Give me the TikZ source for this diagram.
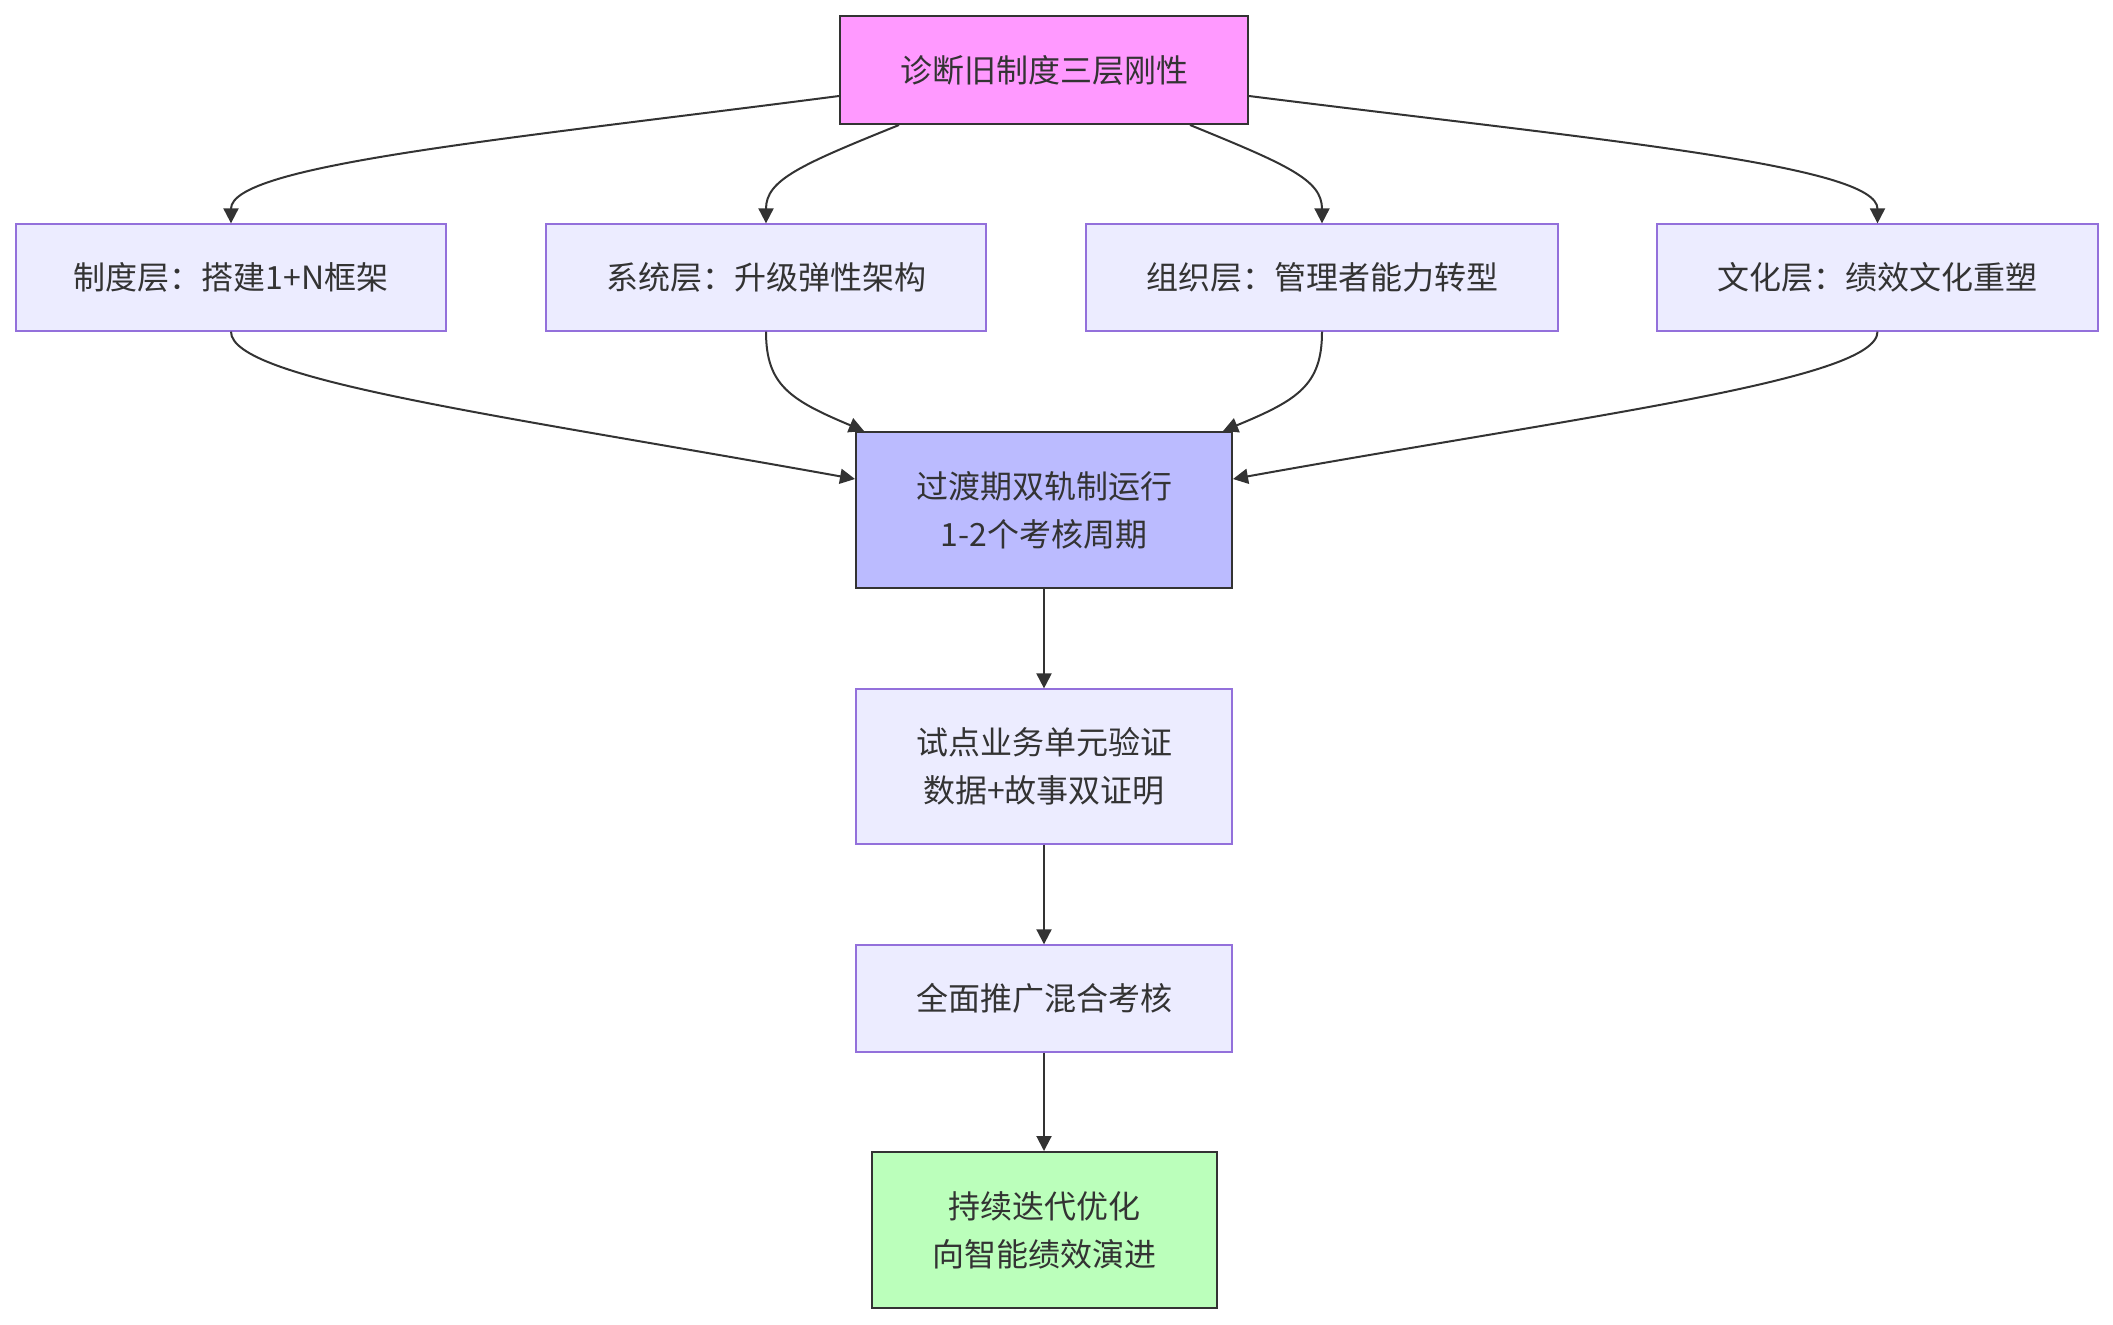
\documentclass[tikz,border=0pt]{standalone}
\usepackage{fontspec}
\setmainfont{Noto Sans CJK SC}
\usepackage{tikz}
\usetikzlibrary{arrows.meta,positioning,calc}

\definecolor{inkgray}{HTML}{333333}
\definecolor{layerfill}{HTML}{ECECFF}
\definecolor{layerline}{HTML}{9370DB}
\definecolor{diagfill}{HTML}{FF99FF}
\definecolor{dualfill}{HTML}{BBBBFF}
\definecolor{evolvefill}{HTML}{BBFFBB}

\begin{document}
\begin{tikzpicture}[x=0.5pt, y=-0.5pt, >={Triangle[length=7.5pt,width=7.5pt]},
    every text node part/.style={align=center},
    every node/.style={font=\fontsize{16pt}{24pt}\selectfont, text=inkgray, inner sep=0pt},
    layerbox/.style={draw=layerline, line width=0.65pt, fill=layerfill, rectangle, minimum height=53.5pt},
    keybox/.style={draw=inkgray, line width=1pt, rectangle},
    link/.style={->, draw=inkgray, line width=1pt}]
    \useasboundingbox (0,0) rectangle (2113,1324);

    \node [keybox, fill=diagfill, minimum width=204pt, minimum height=54pt] (diag) at (1044,70) {诊断旧制度三层刚性};
    \node [layerbox, minimum width=215pt] (rules) at (231,277.5) {制度层：搭建1+N框架};
    \node [layerbox, minimum width=220pt] (system) at (766,277.5) {系统层：升级弹性架构};
    \node [layerbox, minimum width=236pt] (org) at (1322,277.5) {组织层：管理者能力转型};
    \node [layerbox, minimum width=220.5pt] (culture) at (1877.5,277.5) {文化层：绩效文化重塑};
    \node [keybox, fill=dualfill, minimum width=188pt, minimum height=78pt] (dual) at (1044,510) {过渡期双轨制运行\\1-2个考核周期};
    \node [layerbox, minimum width=188pt, minimum height=77.5pt, below=49.7pt of dual] (pilot) {试点业务单元验证\\数据+故事双证明};
    \node [layerbox, minimum width=188pt, below=49.8pt of pilot] (rollout) {全面推广混合考核};
    \node [keybox, fill=evolvefill, minimum width=172.5pt, minimum height=78pt, below=49.2pt of rollout] (evolve) {持续迭代优化\\向智能绩效演进};

    % fan out to the four layers
    \draw [link] ([yshift=-13pt]diag.west) .. controls (500,140) and (231,165) .. (rules.north);
    \draw [link] ([xshift=-72.5pt]diag.south) .. controls (800,165) and (766,180) .. (system.north);
    \draw [link] ([xshift=73pt]diag.south) .. controls (1288,165) and (1322,180) .. (org.north);
    \draw [link] ([yshift=-13pt]diag.east) .. controls (1600,140) and (1877.5,165) .. (culture.north);

    % layers merge into the dual track
    \draw [link] (rules.south) .. controls (231,380) and (500,415) .. ([yshift=15.5pt]dual.west);
    \draw [link] (system.south) .. controls (766,385) and (790,400) .. ([xshift=4.5pt]dual.north west);
    \draw [link] (org.south) .. controls (1322,385) and (1298,400) .. ([xshift=-5pt]dual.north east);
    \draw [link] (culture.south) .. controls (1877.5,380) and (1588,415) .. ([yshift=15.5pt]dual.east);

    \draw [link] (dual) -- (pilot);
    \draw [link] (pilot) -- (rollout);
    \draw [link] (rollout) -- (evolve);
\end{tikzpicture}
\end{document}
